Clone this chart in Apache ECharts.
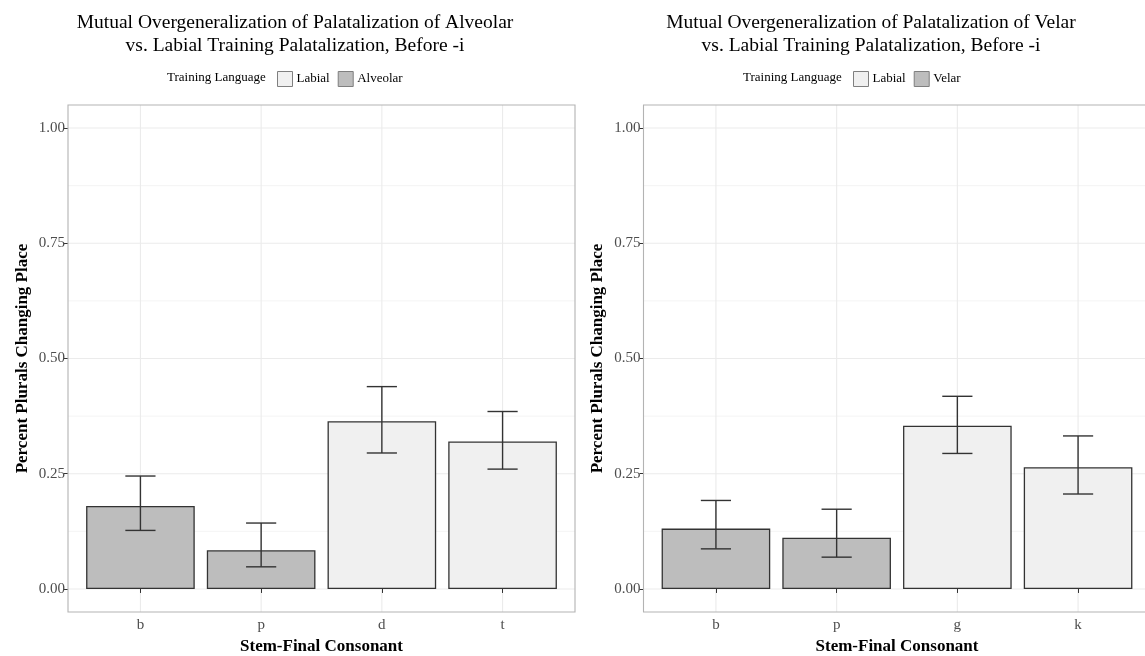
<!DOCTYPE html>
<html>
<head>
<meta charset="utf-8">
<script src="https://cdn.jsdelivr.net/npm/echarts@6/dist/echarts.min.js"></script>
<style>
html,body{margin:0;padding:0;background:#fff;}
#chart{width:1145px;height:656px;}
</style>
</head>
<body>
<div id="chart"></div>
<script>
// ---------- data ----------
const titleA = 'Mutual Overgeneralization of Palatalization of Alveolar\nvs. Labial Training Palatalization, Before -i';
const titleV = 'Mutual Overgeneralization of Palatalization of Velar\nvs. Labial Training Palatalization, Before -i';
const legendTitle = 'Training Language';
const legendA = ['Labial', 'Alveolar'];
const legendV = ['Labial', 'Velar'];
const catsA = ['b', 'p', 'd', 't'];
const catsV = ['b', 'p', 'g', 'k'];
const groupA = ['Alveolar', 'Alveolar', 'Labial', 'Labial'];
const groupV = ['Velar', 'Velar', 'Labial', 'Labial'];
const meanA = [0.180, 0.084, 0.364, 0.320];
const lowA  = [0.127, 0.048, 0.295, 0.260];
const highA = [0.245, 0.143, 0.439, 0.385];
const meanV = [0.131, 0.111, 0.354, 0.264];
const lowV  = [0.087, 0.069, 0.294, 0.206];
const highV = [0.192, 0.173, 0.418, 0.332];
const yTicks = [0, 0.25, 0.5, 0.75, 1];
const yMinor = [0.125, 0.375, 0.625, 0.875];
const yTitle = 'Percent Plurals Changing Place';
const xTitle = 'Stem-Final Consonant';

// ---------- style ----------
const FONT = '"Liberation Serif", "DejaVu Serif", serif';
const COL_LIGHT = '#f0f0f0';
const COL_DARK = '#bdbdbd';
const EDGE = '#333333';
// panel geometry (ggplot panel incl. 0.6 expansion); grid = category range only
const panelA = {left: 68, right: 575};
const panelV = {left: 643.5, right: 1150.5};
const TOP = 105, BOTTOM = 612;
function gridFor(p) {
  const pad = (p.right - p.left) / 42; // 0.1 category of 4.2 units
  return {left: p.left + pad, width: (p.right - p.left) - 2 * pad, top: TOP, height: BOTTOM - TOP};
}
const gA = gridFor(panelA), gV = gridFor(panelV);

const chart = echarts.init(document.getElementById('chart'), null, {renderer: 'canvas'});

function panelSeries(gi, ncat) {
  return {
    type: 'custom', xAxisIndex: gi, yAxisIndex: gi, silent: true, z: 0, clip: false,
    data: [[0, 0]],
    renderItem: function (params, api) {
      const cs = params.coordSys;
      const pad = cs.width / (ncat * 10);
      const x0 = cs.x - pad, x1 = cs.x + cs.width + pad;
      const children = [];
      yMinor.forEach(v => {
        const y = api.coord([0, v])[1];
        children.push({type: 'line', shape: {x1: x0, y1: y, x2: x1, y2: y}, style: {stroke: '#ededed', lineWidth: 0.6}});
      });
      yTicks.forEach(v => {
        const y = api.coord([0, v])[1];
        children.push({type: 'line', shape: {x1: x0, y1: y, x2: x1, y2: y}, style: {stroke: '#ebebeb', lineWidth: 1.1}});
      });
      for (let i = 0; i < ncat; i++) {
        const x = api.coord([i, 0])[0];
        children.push({type: 'line', shape: {x1: x, y1: cs.y, x2: x, y2: cs.y + cs.height}, style: {stroke: '#ebebeb', lineWidth: 1.1}});
      }
      return {type: 'group', children: children};
    }
  };
}
function borderSeries(gi, ncat) {
  return {
    type: 'custom', xAxisIndex: gi, yAxisIndex: gi, silent: true, z: 10, clip: false,
    data: [[0, 0]],
    renderItem: function (params, api) {
      const cs = params.coordSys;
      const pad = cs.width / (ncat * 10);
      return {type: 'rect', shape: {x: cs.x - pad, y: cs.y, width: cs.width + 2 * pad, height: cs.height},
        style: {fill: 'none', stroke: '#b3b3b3', lineWidth: 1.1}};
    }
  };
}
function barSeries(gi, name, means, groups, color) {
  return {
    type: 'bar', name: name, xAxisIndex: gi, yAxisIndex: gi, z: 2,
    barWidth: '90%', barGap: '-100%',
    itemStyle: {color: color, borderColor: EDGE, borderWidth: 1.3},
    data: means.map((v, i) => groups[i] === name ? v : '-'),
    emphasis: {disabled: true}
  };
}
function errSeries(gi, lows, highs) {
  return {
    type: 'custom', xAxisIndex: gi, yAxisIndex: gi, z: 5, silent: true,
    data: lows.map((l, i) => [i, l, highs[i]]),
    encode: {x: 0, y: [1, 2]},
    renderItem: function (params, api) {
      const lo = api.coord([api.value(0), api.value(1)]);
      const hi = api.coord([api.value(0), api.value(2)]);
      const hw = api.size([1, 0])[0] * 0.125;
      const st = {stroke: EDGE, lineWidth: 1.4};
      return {type: 'group', children: [
        {type: 'line', shape: {x1: lo[0], y1: lo[1], x2: hi[0], y2: hi[1]}, style: st},
        {type: 'line', shape: {x1: lo[0] - hw, y1: lo[1], x2: lo[0] + hw, y2: lo[1]}, style: st},
        {type: 'line', shape: {x1: hi[0] - hw, y1: hi[1], x2: hi[0] + hw, y2: hi[1]}, style: st}
      ]};
    }
  };
}
function xAxisFor(gi, cats) {
  return {
    type: 'category', gridIndex: gi, data: cats, boundaryGap: true,
    axisLine: {show: false},
    axisTick: {show: true, alignWithLabel: true, length: 4, lineStyle: {color: EDGE}},
    axisLabel: {color: '#4d4d4d', fontFamily: FONT, fontSize: 15, margin: 6},
    splitLine: {show: false},
    name: xTitle, nameLocation: 'middle', nameGap: 26,
    nameTextStyle: {fontFamily: FONT, fontSize: 17, fontWeight: 'bold', color: '#000'}
  };
}
function yAxisFor(gi, pad) {
  return {
    type: 'value', gridIndex: gi, min: -0.05, max: 1.05, offset: pad,
    axisLine: {show: false},
    axisTick: {show: true, length: 4, lineStyle: {color: EDGE}, customValues: yTicks},
    axisLabel: {color: '#4d4d4d', fontFamily: FONT, fontSize: 15, margin: 3, customValues: yTicks,
      formatter: v => Number(v).toFixed(2)},
    splitLine: {show: false},
    name: yTitle, nameLocation: 'middle', nameGap: 37, nameRotate: 90,
    nameTextStyle: {fontFamily: FONT, fontSize: 17, fontWeight: 'bold', color: '#000'}
  };
}
function legendFor(names, left) {
  return {
    show: true, left: left, top: 66, orient: 'horizontal', icon: 'rect',
    itemWidth: 15, itemHeight: 15, itemGap: 8,
    selectedMode: false,
    textStyle: {fontFamily: FONT, fontSize: 13, color: '#000', padding: [0, 0, 0, -1]},
    itemStyle: {borderColor: '#7f7f7f', borderWidth: 1},
    data: names.map(n => ({name: n, itemStyle: {color: n === 'Labial' ? COL_LIGHT : COL_DARK, borderColor: '#7f7f7f', borderWidth: 1}}))
  };
}

const option = {
  animation: false,
  backgroundColor: '#fff',
  title: [
    {text: titleA, left: 290, top: 6, textAlign: 'center',
      textStyle: {fontFamily: FONT, fontSize: 19.5, fontWeight: 'normal', color: '#000', lineHeight: 23}},
    {text: titleV, left: 866, top: 6, textAlign: 'center',
      textStyle: {fontFamily: FONT, fontSize: 19.5, fontWeight: 'normal', color: '#000', lineHeight: 23}}
  ],
  legend: [legendFor(legendA, 272), legendFor(legendV, 848)],
  graphic: [
    {type: 'text', x: 167, y: 78, style: {text: legendTitle, font: '13px ' + FONT, fill: '#000', verticalAlign: 'middle'}},
    {type: 'text', x: 743, y: 78, style: {text: legendTitle, font: '13px ' + FONT, fill: '#000', verticalAlign: 'middle'}}
  ],
  grid: [
    {left: gA.left, width: gA.width, top: gA.top, height: gA.height, containLabel: false, outerBoundsMode: 'none'},
    {left: gV.left, width: gV.width, top: gV.top, height: gV.height, containLabel: false, outerBoundsMode: 'none'}
  ],
  xAxis: [xAxisFor(0, catsA), xAxisFor(1, catsV)],
  yAxis: [yAxisFor(0, gA.left - panelA.left), yAxisFor(1, gV.left - panelV.left)],
  series: [
    panelSeries(0, catsA.length), panelSeries(1, catsV.length),
    barSeries(0, 'Labial', meanA, groupA, COL_LIGHT),
    barSeries(0, 'Alveolar', meanA, groupA, COL_DARK),
    barSeries(1, 'Labial', meanV, groupV, COL_LIGHT),
    barSeries(1, 'Velar', meanV, groupV, COL_DARK),
    errSeries(0, lowA, highA), errSeries(1, lowV, highV),
    borderSeries(0, catsA.length), borderSeries(1, catsV.length)
  ]
};
chart.setOption(option);
</script>
</body>
</html>
